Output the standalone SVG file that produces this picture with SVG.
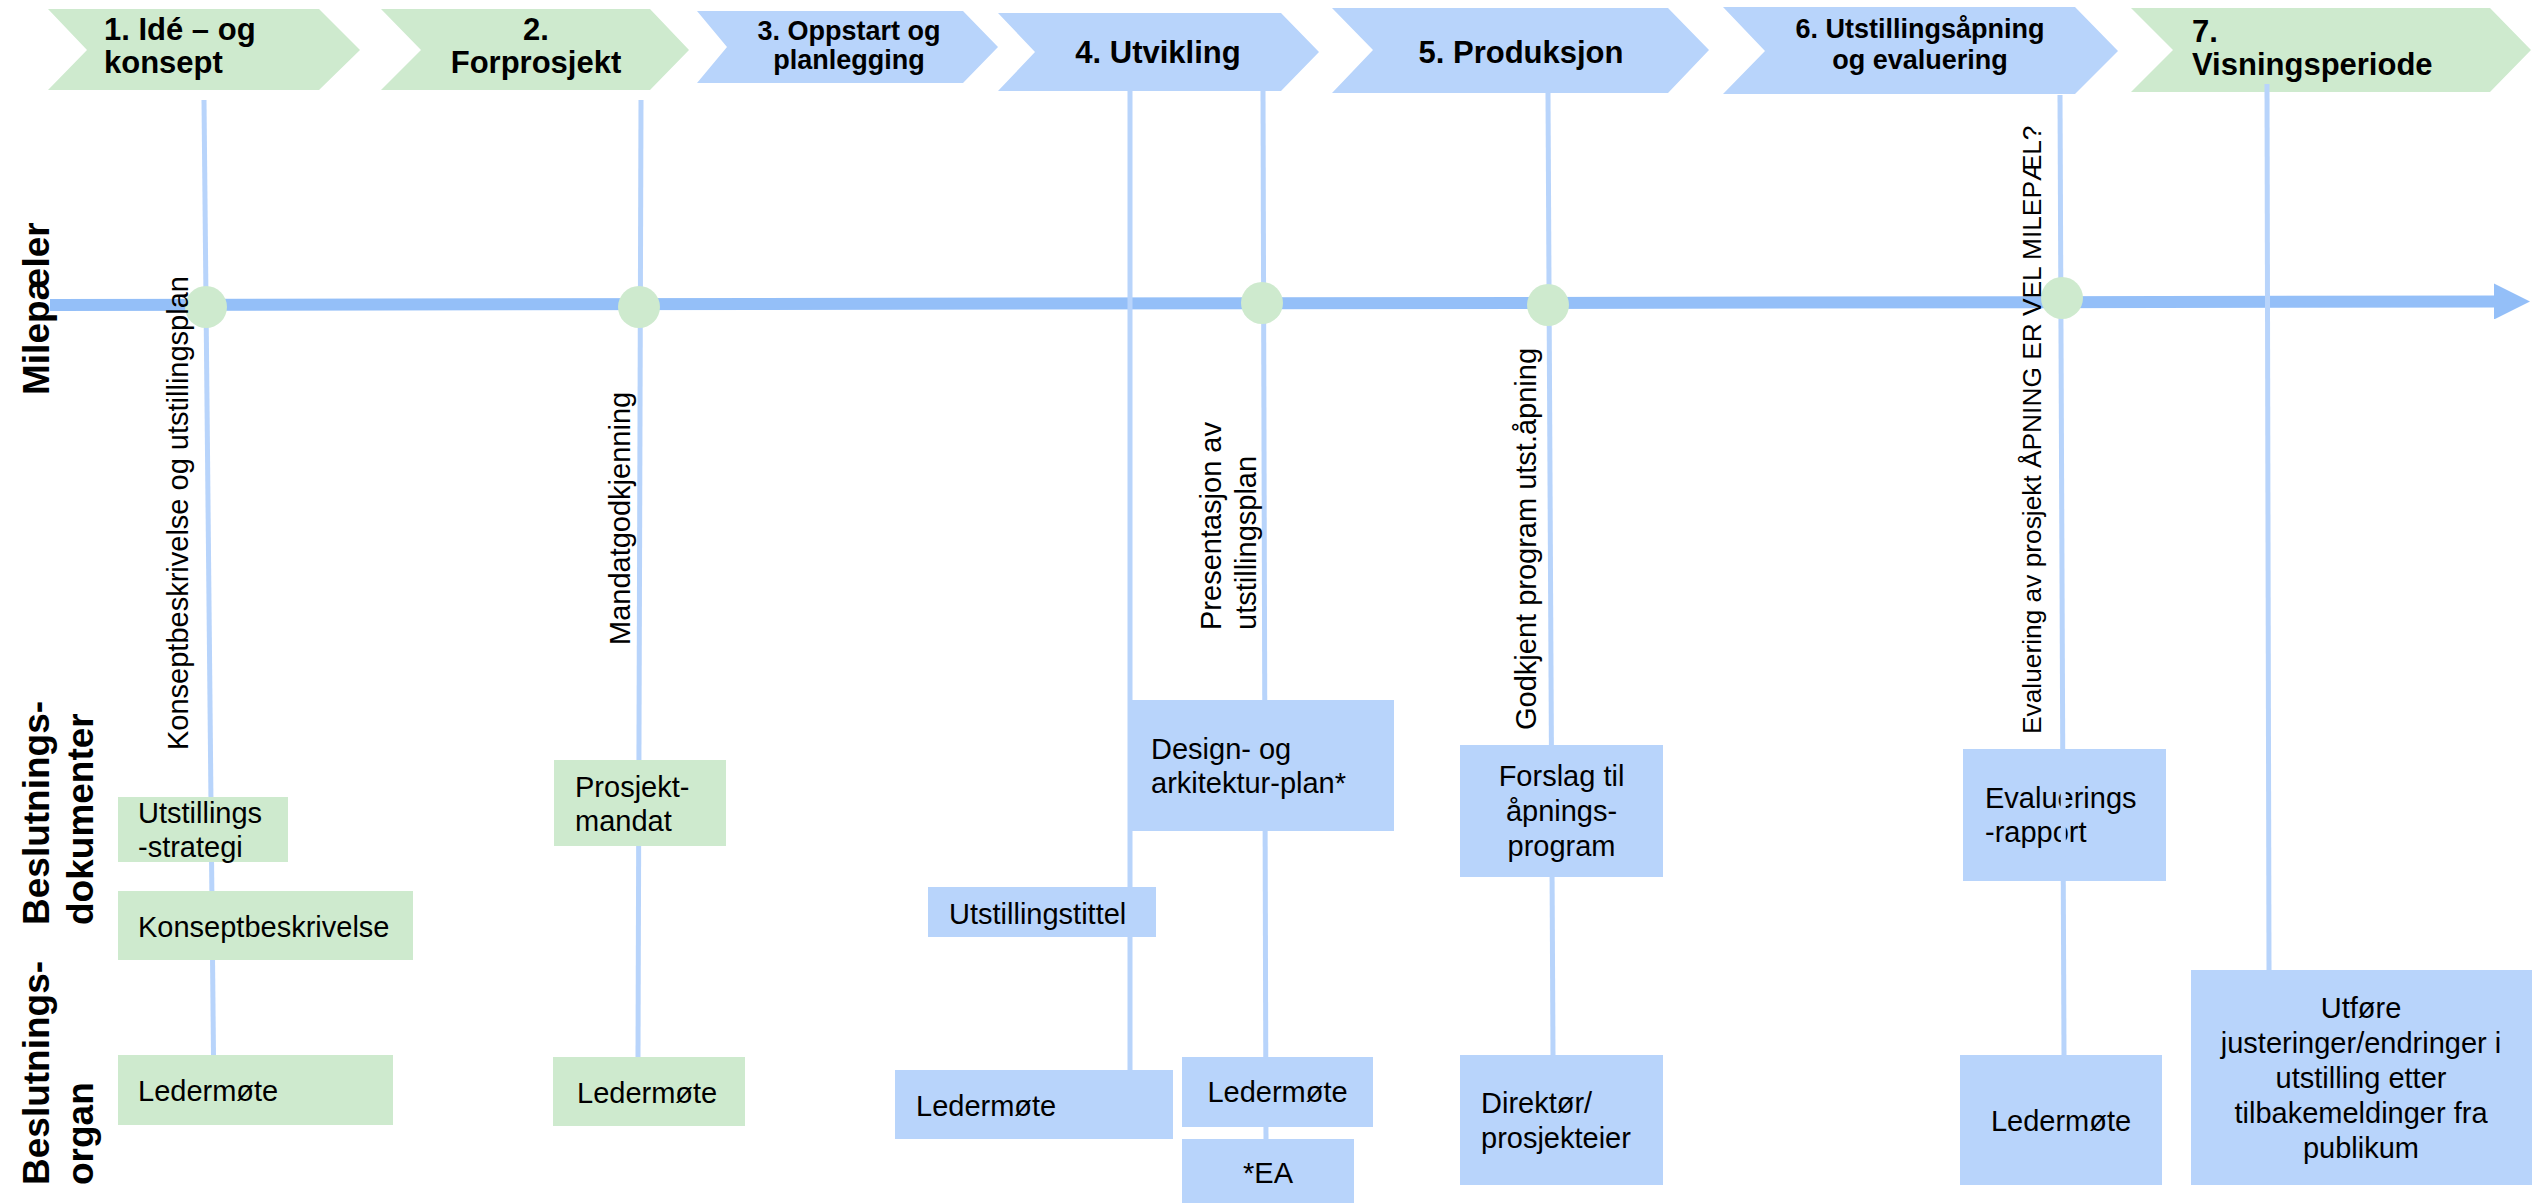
<svg xmlns="http://www.w3.org/2000/svg" width="2534" height="1203" viewBox="0 0 2534 1203">
<defs>
<style>
.t{font-family:"Liberation Sans",Arial,Helvetica,sans-serif;font-size:29px;fill:#000}
.h{font-size:31px;font-weight:bold}
.h2{font-size:27px;font-weight:bold}
.lab{font-size:37px;font-weight:bold}
.mid{text-anchor:middle}
.g{fill:#CEEACE}
.bl{fill:#B8D4FB}
.conn{stroke:#B8D4FB;stroke-width:5;fill:none}
.axis{stroke:#94BFF8;stroke-width:12;fill:none}
.ms{fill:#CEEACE}
</style>
<marker id="ah" viewBox="0 0 36 36" refX="0" refY="18" markerWidth="36" markerHeight="36" markerUnits="userSpaceOnUse" orient="auto">
<path d="M0,0 L36,18 L0,36 Z" fill="#94BFF8"/>
</marker>
</defs>
<rect x="0" y="0" width="2534" height="1203" fill="#FFFFFF"/>

<g id="phases">
<g id="phase1"><polygon class="g" points="48,9 319,9 360,50 319,90 48,90 87,50"/><text class="t h"><tspan x="104" y="40">1. Idé – og</tspan><tspan x="104" y="73">konsept</tspan></text></g>
<g id="phase2"><polygon class="g" points="381,9 650,9 689,50 650,90 381,90 421,50"/><text class="t h mid"><tspan x="536" y="40">2.</tspan><tspan x="536" y="73">Forprosjekt</tspan></text></g>
<g id="phase3"><polygon class="bl" points="697,11 963,11 998,47 963,83 697,83 727,47"/><text class="t h2 mid"><tspan x="849" y="40">3. Oppstart og</tspan><tspan x="849" y="69">planlegging</tspan></text></g>
<g id="phase4"><polygon class="bl" points="998,13 1281,13 1319,52 1281,91 998,91 1035,52"/><text class="t h mid" x="1158" y="63">4. Utvikling</text></g>
<g id="phase5"><polygon class="bl" points="1332,8 1668,8 1709,50 1668,93 1332,93 1373,50"/><text class="t h mid" x="1521" y="63">5. Produksjon</text></g>
<g id="phase6"><polygon class="bl" points="1723,7 2075,7 2118,51 2075,94 1723,94 1765,51"/><text class="t h2 mid"><tspan x="1920" y="38">6. Utstillingsåpning</tspan><tspan x="1920" y="69">og evaluering</tspan></text></g>
<g id="phase7"><polygon class="g" points="2131,8 2490,8 2531,50 2490,92 2131,92 2173,50"/><text class="t h"><tspan x="2192" y="42">7.</tspan><tspan x="2192" y="75">Visningsperiode</tspan></text></g>
</g>

<g id="connectors">
<line class="axis" x1="50" y1="305" x2="2494" y2="301.5" marker-end="url(#ah)"/>
<line class="conn" x1="204" y1="100" x2="213.5" y2="1056"/>
<line class="conn" x1="641" y1="100" x2="638" y2="1058"/>
<line class="conn" x1="1130" y1="90" x2="1130" y2="1071"/>
<line class="conn" x1="1263" y1="90" x2="1266" y2="1140"/>
<line class="conn" x1="1548" y1="93" x2="1553" y2="1056"/>
<line class="conn" x1="2060" y1="95" x2="2064" y2="1056"/>
<line class="conn" x1="2267" y1="84" x2="2269" y2="971"/>
</g>

<g id="milestones">
<circle id="m1" class="ms" cx="206" cy="307" r="21"/>
<circle id="m2" class="ms" cx="639" cy="307" r="21"/>
<circle id="m3" class="ms" cx="1262" cy="303" r="21"/>
<circle id="m4" class="ms" cx="1548" cy="305" r="21"/>
<circle id="m5" class="ms" cx="2062" cy="298" r="21"/>
</g>

<g id="row-labels">
<text id="lab-milepaeler" class="t lab" transform="translate(49,395) rotate(-90)">Milepæler</text>
<text id="lab-dokumenter" class="t lab" transform="translate(49,925) rotate(-90)"><tspan x="0" y="0">Beslutnings-</tspan><tspan x="0" y="44">dokumenter</tspan></text>
<text id="lab-organ" class="t lab" transform="translate(49,1185) rotate(-90)"><tspan x="0" y="0">Beslutnings-</tspan><tspan x="0" y="44">organ</tspan></text>
</g>

<g id="milestone-labels">
<text id="ml1" class="t" transform="translate(188,750) rotate(-90)">Konseptbeskrivelse og utstillingsplan</text>
<text id="ml2" class="t" transform="translate(630,645) rotate(-90)">Mandatgodkjenning</text>
<text id="ml3" class="t" transform="translate(1221,630) rotate(-90)"><tspan x="0" y="0">Presentasjon av</tspan><tspan x="0" y="35">utstillingsplan</tspan></text>
<text id="ml4" class="t" transform="translate(1536,730) rotate(-90)">Godkjent program utst.åpning</text>
<text id="ml5" class="t" style="font-size:26.3px" transform="translate(2041,734) rotate(-90)">Evaluering av prosjekt ÅPNING ER VEL MILEPÆL?</text>
</g>

<g id="utstillingsstrategi"><rect class="g" x="118" y="797" width="170" height="65"/><text class="t"><tspan x="138" y="823">Utstillings</tspan><tspan x="138" y="857">-strategi</tspan></text></g>
<g id="konseptbeskrivelse"><rect class="g" x="118" y="891" width="295" height="69"/><text class="t" x="138" y="937">Konseptbeskrivelse</text></g>
<g id="ledermote1"><rect class="g" x="118" y="1055" width="275" height="70"/><text class="t" x="138" y="1101">Ledermøte</text></g>
<g id="prosjektmandat"><rect class="g" x="554" y="760" width="172" height="86"/><text class="t"><tspan x="575" y="797">Prosjekt-</tspan><tspan x="575" y="831">mandat</tspan></text></g>
<g id="ledermote2"><rect class="g" x="553" y="1057" width="192" height="69"/><text class="t" x="577" y="1103">Ledermøte</text></g>

<g id="designplan"><rect class="bl" x="1130" y="700" width="264" height="131"/><text class="t"><tspan x="1151" y="759">Design- og</tspan><tspan x="1151" y="793">arkitektur-plan*</tspan></text></g>
<g id="utstillingstittel"><rect class="bl" x="928" y="887" width="228" height="50"/><text class="t" x="949" y="924">Utstillingstittel</text></g>
<g id="ledermote3"><rect class="bl" x="895" y="1070" width="278" height="69"/><text class="t" x="916" y="1116">Ledermøte</text></g>
<g id="ledermote4"><rect class="bl" x="1182" y="1057" width="191" height="70"/><text class="t mid" x="1277.5" y="1102">Ledermøte</text></g>
<g id="ea"><rect class="bl" x="1182" y="1139" width="172" height="64"/><text class="t mid" x="1268" y="1183">*EA</text></g>
<g id="forslag"><rect class="bl" x="1460" y="745" width="203" height="132"/><text class="t mid"><tspan x="1561.5" y="786">Forslag til</tspan><tspan x="1561.5" y="821">åpnings-</tspan><tspan x="1561.5" y="856">program</tspan></text></g>
<g id="direktor"><rect class="bl" x="1460" y="1055" width="203" height="130"/><text class="t"><tspan x="1481" y="1113">Direktør/</tspan><tspan x="1481" y="1148">prosjekteier</tspan></text></g>
<g id="evalueringsrapport"><rect class="bl" x="1963" y="749" width="203" height="132"/><text class="t"><tspan x="1985" y="808">Evaluerings</tspan><tspan x="1985" y="842">-rapport</tspan></text></g>
<g id="ledermote5"><rect class="bl" x="1960" y="1055" width="202" height="130"/><text class="t mid" x="2061" y="1131">Ledermøte</text></g>
<g id="utfore"><rect class="bl" x="2191" y="970" width="341" height="215"/><text class="t mid"><tspan x="2361" y="1018">Utføre</tspan><tspan x="2361" y="1053">justeringer/endringer i</tspan><tspan x="2361" y="1088">utstilling etter</tspan><tspan x="2361" y="1123">tilbakemeldinger fra</tspan><tspan x="2361" y="1158">publikum</tspan></text></g>

<g id="connectors-overlay">
<line class="conn" x1="2063" y1="749" x2="2063.5" y2="881"/>
</g>
</svg>
